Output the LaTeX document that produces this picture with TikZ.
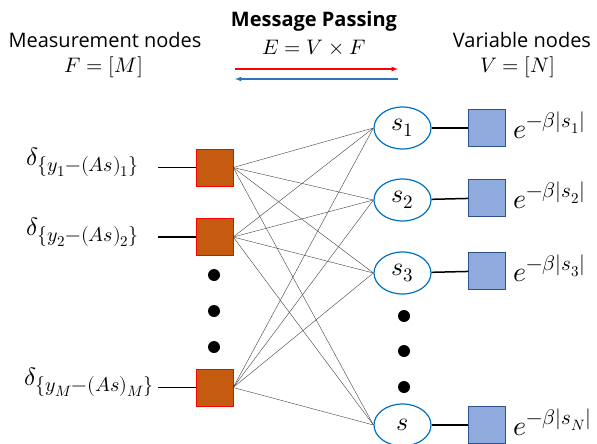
\documentclass[tikz,border=0pt]{standalone}
\usepackage{amsmath}
\usepackage{fontspec}
\usepackage{unicode-math}
\setmainfont{Open Sans}
\setmathfont{Latin Modern Math}
\usetikzlibrary{arrows,shapes,positioning}

\DeclareMathSizes{21}{21}{16}{12}
\DeclareMathSizes{25}{25}{20}{15}
\DeclareMathSizes{26}{26}{19}{14}
\DeclareMathSizes{28}{28}{21}{15}

\definecolor{measfill}{RGB}{197,90,17}
\definecolor{varfill}{RGB}{143,170,220}
\definecolor{varline}{RGB}{47,82,143}
\definecolor{ellblue}{RGB}{0,112,192}
\definecolor{msgblue}{RGB}{46,117,182}

\tikzset{
  meas/.style={rectangle, draw=red, fill=measfill, minimum size=37pt, inner sep=0pt},
  varsq/.style={rectangle, draw=varline, fill=varfill, minimum size=37pt, inner sep=0pt},
  varell/.style={ellipse, draw=ellblue, line width=1.2pt, minimum width=57pt, minimum height=42pt, inner sep=0pt, font=\fontsize{26}{30}\selectfont},
  bigdot/.style={circle, fill=black, minimum size=12pt, inner sep=0pt},
  edge/.style={draw=black!75, line width=0.4pt},
  stub/.style={draw=black, line width=1.5pt},
  head/.style={align=center, font=\fontsize{20}{24}\selectfont},
  headmath/.style={font=\fontsize{21}{24}\selectfont},
  flabel/.style={font=\fontsize{25}{28}\selectfont},
  elabel/.style={font=\fontsize{28}{30}\selectfont},
}

\begin{document}
\begin{tikzpicture}[x=1pt, y=-1pt]
\useasboundingbox (0,0) rectangle (597,444);

% titles
\node [head] (mtitle) at (105,40) {Measurement nodes};
\node [headmath] (mset) at (104,67) {$F=[M]$};
\node [head, font=\fontsize{20}{24}\selectfont\bfseries] (ptitle) at (314,21) {Message Passing};
\node [headmath] (pset) at (314,48) {$E=V\times F$};
\node [head] (vtitle) at (522,40) {Variable nodes};
\node [headmath] (vset) at (518,67) {$V=[N]$};

\coordinate (ra) at (235,69);
\coordinate (rb) at (398,69);
\coordinate (ba) at (235,79);
\coordinate (bb) at (398,79);
\draw [red, line width=1.2pt, -latex] (ra) -- (rb);
\draw [msgblue, line width=1.2pt, -latex] (bb) -- (ba);

% measurement nodes
\node [meas] (f1) at (214.5,167.5) {};
\node [meas] (f2) at (214.5,237) {};
\node [meas] (fM) at (214.5,387.5) {};
\node [bigdot] (ld1) at (214,275) {};
\node [bigdot] (ld2) at (214,311) {};
\node [bigdot] (ld3) at (214,347) {};

\node [anchor=base east, flabel] (d1) at (143,165) {$\delta_{\{y_1-(As)_1\}}$};
\node [anchor=base east, flabel] (d2) at (143,235) {$\delta_{\{y_2-(As)_2\}}$};
\node [anchor=base east, flabel] (dM) at (158,385) {$\delta_{\{y_M-(As)_M\}}$};

\draw [stub] (f1.west) -- ++(-38,0);
\draw [stub] (f2.west) -- ++(-38,0);
\draw [stub] (fM.west) -- ++(-38,0);

% variable nodes
\node [varell] (s1) at (402.5,128) {$s_1$};
\node [varell] (s2) at (402.5,200) {$s_2$};
\node [varell] (s3) at (402.5,273) {$s_3$};
\node [varell] (sN) at (402.5,425) {$s$};
\node [bigdot] (rd1) at (404,316) {};
\node [bigdot] (rd2) at (404,351) {};
\node [bigdot] (rd3) at (404,387) {};

\node [varsq] (v1) at (487,128) {};
\node [varsq] (v2) at (487,198) {};
\node [varsq] (v3) at (487,271) {};
\node [varsq] (vN) at (487,425) {};

\draw [stub] (s1) -- (v1);
\draw [stub] (s2) -- (v2);
\draw [stub] (s3) -- (v3);
\draw [stub] (sN) -- (vN);

\node [anchor=base west, elabel] (e1) at (510,138) {$e^{-\beta|s_1|}$};
\node [anchor=base west, elabel] (e2) at (510,208) {$e^{-\beta|s_2|}$};
\node [anchor=base west, elabel] (e3) at (510,281) {$e^{-\beta|s_3|}$};
\node [anchor=base west, elabel] (eN) at (510,435) {$e^{-\beta|s_N|}$};

% message passing edges
\foreach \f in {f1,f2,fM}
  \foreach \s in {s1,s2,s3,sN}
    \draw [edge] (\f.east) -- (\s.west);
\end{tikzpicture}
\end{document}
